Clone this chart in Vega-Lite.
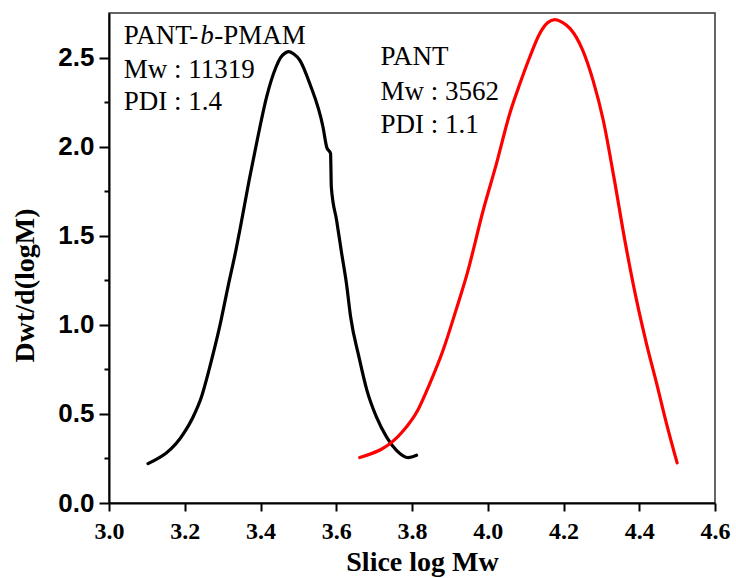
{
  "$schema": "https://vega.github.io/schema/vega-lite/v6.json",
  "width": 606,
  "height": 490,
  "autosize": "none",
  "padding": {"left": 109, "top": 13, "right": 21, "bottom": 75},
  "background": "white",
  "config": {
    "view": {"stroke": "#333333", "strokeWidth": 1.5},
    "axis": {"grid": false, "domainColor": "black", "tickColor": "black", "labelColor": "black", "titleColor": "black"}
  },
  "datasets": {
    "gpc": [
      {"series": "PANT-b-PMAM", "logMw": 3.103, "dwt": 0.221},
      {"series": "PANT-b-PMAM", "logMw": 3.198, "dwt": 0.393},
      {"series": "PANT-b-PMAM", "logMw": 3.222, "dwt": 0.483},
      {"series": "PANT-b-PMAM", "logMw": 3.244, "dwt": 0.595},
      {"series": "PANT-b-PMAM", "logMw": 3.266, "dwt": 0.763},
      {"series": "PANT-b-PMAM", "logMw": 3.292, "dwt": 0.988},
      {"series": "PANT-b-PMAM", "logMw": 3.314, "dwt": 1.212},
      {"series": "PANT-b-PMAM", "logMw": 3.335, "dwt": 1.418},
      {"series": "PANT-b-PMAM", "logMw": 3.347, "dwt": 1.549},
      {"series": "PANT-b-PMAM", "logMw": 3.370, "dwt": 1.811},
      {"series": "PANT-b-PMAM", "logMw": 3.393, "dwt": 2.054},
      {"series": "PANT-b-PMAM", "logMw": 3.416, "dwt": 2.278},
      {"series": "PANT-b-PMAM", "logMw": 3.441, "dwt": 2.447},
      {"series": "PANT-b-PMAM", "logMw": 3.453, "dwt": 2.500},
      {"series": "PANT-b-PMAM", "logMw": 3.463, "dwt": 2.522},
      {"series": "PANT-b-PMAM", "logMw": 3.474, "dwt": 2.533},
      {"series": "PANT-b-PMAM", "logMw": 3.487, "dwt": 2.521},
      {"series": "PANT-b-PMAM", "logMw": 3.504, "dwt": 2.484},
      {"series": "PANT-b-PMAM", "logMw": 3.530, "dwt": 2.354},
      {"series": "PANT-b-PMAM", "logMw": 3.565, "dwt": 2.110},
      {"series": "PANT-b-PMAM", "logMw": 3.575, "dwt": 1.995},
      {"series": "PANT-b-PMAM", "logMw": 3.585, "dwt": 1.961},
      {"series": "PANT-b-PMAM", "logMw": 3.587, "dwt": 1.773},
      {"series": "PANT-b-PMAM", "logMw": 3.601, "dwt": 1.586},
      {"series": "PANT-b-PMAM", "logMw": 3.614, "dwt": 1.405},
      {"series": "PANT-b-PMAM", "logMw": 3.627, "dwt": 1.231},
      {"series": "PANT-b-PMAM", "logMw": 3.638, "dwt": 1.044},
      {"series": "PANT-b-PMAM", "logMw": 3.660, "dwt": 0.819},
      {"series": "PANT-b-PMAM", "logMw": 3.681, "dwt": 0.632},
      {"series": "PANT-b-PMAM", "logMw": 3.706, "dwt": 0.483},
      {"series": "PANT-b-PMAM", "logMw": 3.733, "dwt": 0.370},
      {"series": "PANT-b-PMAM", "logMw": 3.759, "dwt": 0.296},
      {"series": "PANT-b-PMAM", "logMw": 3.790, "dwt": 0.255},
      {"series": "PANT-b-PMAM", "logMw": 3.812, "dwt": 0.268},
      {"series": "PANT", "logMw": 3.662, "dwt": 0.255},
      {"series": "PANT", "logMw": 3.774, "dwt": 0.398},
      {"series": "PANT", "logMw": 3.816, "dwt": 0.524},
      {"series": "PANT", "logMw": 3.847, "dwt": 0.670},
      {"series": "PANT", "logMw": 3.882, "dwt": 0.857},
      {"series": "PANT", "logMw": 3.916, "dwt": 1.081},
      {"series": "PANT", "logMw": 3.946, "dwt": 1.290},
      {"series": "PANT", "logMw": 3.988, "dwt": 1.643},
      {"series": "PANT", "logMw": 4.023, "dwt": 1.905},
      {"series": "PANT", "logMw": 4.058, "dwt": 2.185},
      {"series": "PANT", "logMw": 4.085, "dwt": 2.354},
      {"series": "PANT", "logMw": 4.111, "dwt": 2.503},
      {"series": "PANT", "logMw": 4.137, "dwt": 2.634},
      {"series": "PANT", "logMw": 4.158, "dwt": 2.695},
      {"series": "PANT", "logMw": 4.177, "dwt": 2.713},
      {"series": "PANT", "logMw": 4.197, "dwt": 2.698},
      {"series": "PANT", "logMw": 4.217, "dwt": 2.664},
      {"series": "PANT", "logMw": 4.250, "dwt": 2.545},
      {"series": "PANT", "logMw": 4.278, "dwt": 2.372},
      {"series": "PANT", "logMw": 4.305, "dwt": 2.148},
      {"series": "PANT", "logMw": 4.333, "dwt": 1.829},
      {"series": "PANT", "logMw": 4.364, "dwt": 1.450},
      {"series": "PANT", "logMw": 4.393, "dwt": 1.137},
      {"series": "PANT", "logMw": 4.419, "dwt": 0.895},
      {"series": "PANT", "logMw": 4.446, "dwt": 0.670},
      {"series": "PANT", "logMw": 4.472, "dwt": 0.446},
      {"series": "PANT", "logMw": 4.500, "dwt": 0.225}
    ],
    "notes": [
      {"x": 3.039, "y": 2.578, "text": "PANT-"},
      {"x": 3.278, "y": 2.578, "text": "-PMAM"},
      {"x": 3.039, "y": 2.383, "text": "Mw : 11319"},
      {"x": 3.039, "y": 2.204, "text": "PDI : 1.4"},
      {"x": 3.717, "y": 2.456, "text": "PANT"},
      {"x": 3.717, "y": 2.260, "text": "Mw : 3562"},
      {"x": 3.717, "y": 2.075, "text": "PDI : 1.1"}
    ],
    "italic": [
      {"x": 3.241, "y": 2.578, "text": "b"}
    ]
  },
  "layer": [
    {
      "data": {"name": "gpc"},
      "mark": {"type": "line", "strokeWidth": 3.2, "strokeJoin": "round", "strokeCap": "round", "interpolate": "monotone"},
      "encoding": {
        "x": {
          "field": "logMw", "type": "quantitative",
          "scale": {"domain": [3.0, 4.6], "nice": false, "zero": false},
          "axis": {
            "orient": "bottom",
            "values": [3.0, 3.1, 3.2, 3.3, 3.4, 3.5, 3.6, 3.7, 3.8, 3.9, 4.0, 4.1, 4.2, 4.3, 4.4, 4.5, 4.6],
            "labelExpr": "round(datum.value * 10) % 2 === 0 ? format(datum.value, '.1f') : ''",
            "title": "Slice log Mw",
            "titleFont": "Liberation Serif", "titleFontSize": 28, "titleFontWeight": "bold", "titlePadding": 5,
            "titleX": 313,
            "labelFont": "Liberation Serif", "labelFontSize": 24, "labelFontWeight": "bold", "labelPadding": 8,
            "labelOverlap": false, "labelFlush": false,
            "domainWidth": 2, "tickWidth": 2,
            "tickSize": {"condition": {"test": "round(datum.value * 10) % 2 === 0", "value": 8}, "value": 5}
          }
        },
        "y": {
          "field": "dwt", "type": "quantitative",
          "scale": {"domain": [0, 2.75], "nice": false},
          "axis": {
            "orient": "left",
            "values": [0, 0.25, 0.5, 0.75, 1.0, 1.25, 1.5, 1.75, 2.0, 2.25, 2.5],
            "labelExpr": "round(datum.value * 4) % 2 === 0 ? format(datum.value, '.1f') : ''",
            "title": "Dwt/d(logM)",
            "titleFont": "Liberation Serif", "titleFontSize": 28, "titleFontWeight": "bold", "titlePadding": 18,
            "titleY": 272,
            "labelFont": "Liberation Sans", "labelFontSize": 26, "labelFontWeight": "bold", "labelPadding": 5,
            "labelOverlap": false, "labelFlush": false,
            "domainWidth": 2, "tickWidth": 2,
            "tickSize": {"condition": {"test": "round(datum.value * 4) % 2 === 0", "value": 10}, "value": 5}
          }
        },
        "color": {
          "field": "series", "type": "nominal",
          "scale": {"domain": ["PANT-b-PMAM", "PANT"], "range": ["#000000", "#ff0000"]},
          "legend": null
        }
      }
    },
    {
      "data": {"name": "notes"},
      "mark": {"type": "text", "font": "Liberation Serif", "fontSize": 27, "align": "left", "baseline": "alphabetic", "color": "black"},
      "encoding": {
        "x": {"field": "x", "type": "quantitative"},
        "y": {"field": "y", "type": "quantitative"},
        "text": {"field": "text"}
      }
    },
    {
      "data": {"name": "italic"},
      "mark": {"type": "text", "font": "Liberation Serif", "fontSize": 27, "fontStyle": "italic", "align": "left", "baseline": "alphabetic", "color": "black"},
      "encoding": {
        "x": {"field": "x", "type": "quantitative"},
        "y": {"field": "y", "type": "quantitative"},
        "text": {"field": "text"}
      }
    }
  ]
}
